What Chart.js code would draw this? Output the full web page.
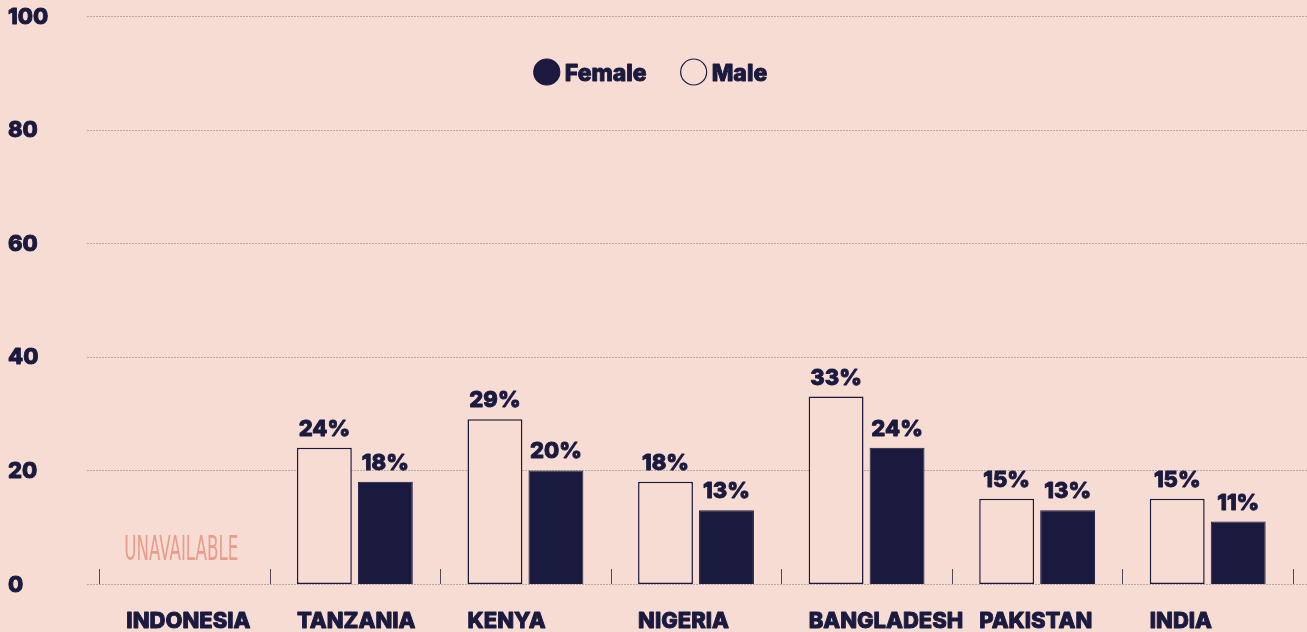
<!DOCTYPE html>
<html>
<head>
<meta charset="utf-8">
<script src="https://cdn.jsdelivr.net/npm/chart.js@4.4.1/dist/chart.umd.min.js"></script>
<style>
html, body { margin: 0; padding: 0; background: #f7dcd3; }
canvas { display: block; }
</style>
</head>
<body>
<canvas id="genderChart" width="1307" height="632"></canvas>
<script>
// data
const countries = ["INDONESIA", "TANZANIA", "KENYA", "NIGERIA", "BANGLADESH", "PAKISTAN", "INDIA"];
const maleValues = [null, 24, 29, 18, 33, 15, 15];
const femaleValues = [null, 18, 20, 13, 24, 13, 11];
const yTicks = [0, 20, 40, 60, 80, 100];
const missingLabel = "UNAVAILABLE";

const NAVY = "#1a193e";
const BG = "#f7dcd3";
const SALMON = "#e99c8c";
const FONT = "Inter, 'DejaVu Sans', sans-serif";


// heavier text: fill plus a thin stroke in the same colour
function boldText(ctx, text, x, y) {
    ctx.lineWidth = 0.9;
    ctx.lineJoin = "round";
    ctx.strokeStyle = ctx.fillStyle;
    ctx.strokeText(text, x, y);
    ctx.fillText(text, x, y);
}


// ======================
// GRID + TICK MARKS
// ======================

const gridPlugin = {
    id: "gridLines",
    beforeDatasetsDraw(chart) {
        const ctx = chart.ctx;
        const area = chart.chartArea;
        const ys = chart.scales.y;
        const xs = chart.scales.x;

        ctx.save();
        ctx.strokeStyle = "#b3abaa";
        ctx.lineWidth = 1;
        ctx.setLineDash([2, 1]);
        yTicks.forEach(v => {
            const y = Math.round(ys.getPixelForValue(v)) + 0.5;
            ctx.beginPath();
            ctx.moveTo(area.left - 12, y);
            ctx.lineTo(chart.width, y);
            ctx.stroke();
        });
        ctx.restore();

        // short category separators sitting on the baseline
        const step = xs.getPixelForValue(1) - xs.getPixelForValue(0);
        const base = ys.getPixelForValue(0);
        ctx.save();
        ctx.strokeStyle = "#4e4a55";
        ctx.lineWidth = 1;
        for (let i = 0; i <= countries.length; i++) {
            const x = Math.round(xs.getPixelForValue(i) - step / 2) + 0.5;
            ctx.beginPath();
            ctx.moveTo(x, base - 15);
            ctx.lineTo(x, base);
            ctx.stroke();
        }
        ctx.restore();
    }
};


// ======================
// LABELS + LEGEND
// ======================

const labelPlugin = {
    id: "labels",
    afterDraw(chart) {
        const ctx = chart.ctx;
        const xs = chart.scales.x;
        const ys = chart.scales.y;
        const maleMeta = chart.getDatasetMeta(0);

        ctx.save();
        ctx.fillStyle = NAVY;
        ctx.font = `800 22px ${FONT}`;

        // y tick labels
        ctx.textAlign = "left";
        ctx.textBaseline = "middle";
        yTicks.forEach(v => {
            boldText(ctx, String(v), 8, ys.getPixelForValue(v) + 1);
        });

        // value labels
        ctx.textAlign = "center";
        ctx.textBaseline = "alphabetic";
        chart.data.datasets.forEach((ds, di) => {
            const meta = chart.getDatasetMeta(di);
            ds.data.forEach((v, i) => {
                if (v === null) return;
                const bar = meta.data[i];
                boldText(ctx, v + "%", bar.x, bar.y - 12);
            });
        });

        // category labels, left aligned with the bar group
        ctx.textAlign = "left";
        const groupOffset = xs.getPixelForValue(1) -
            (maleMeta.data[1].x - maleMeta.data[1].width / 2);
        countries.forEach((c, i) => {
            const x = xs.getPixelForValue(i) - groupOffset;
            boldText(ctx, c, x, chart.height - 4);
        });
        ctx.restore();

        // missing data note
        maleValues.forEach((v, i) => {
            if (v !== null) return;
            ctx.save();
            ctx.fillStyle = SALMON;
            ctx.font = `400 33px 'Liberation Sans Narrow', 'DejaVu Sans Condensed', sans-serif`;
            const w = ctx.measureText(missingLabel).width;
            ctx.translate(xs.getPixelForValue(i) - 60, ys.getPixelForValue(0) - 24);
            ctx.scale(114 / w, 1);
            ctx.fillText(missingLabel, 0, 0);
            ctx.restore();
        });

        // legend
        ctx.save();
        ctx.font = `800 23px ${FONT}`;
        const items = chart.data.datasets.slice().reverse();
        const r = 13;
        const gapText = 5;
        const gapItem = 34;
        const widths = items.map(ds => 2 * r + gapText + ctx.measureText(ds.label).width);
        const total = widths.reduce((a, b) => a + b, 0) + gapItem * (items.length - 1);
        let x = (chart.width - total) / 2 - 3;
        const cy = chart.chartArea.top + 56;
        items.forEach((ds, k) => {
            ctx.beginPath();
            ctx.arc(x + r, cy, r, 0, Math.PI * 2);
            ctx.fillStyle = ds.backgroundColor;
            ctx.fill();
            ctx.lineWidth = 1.2;
            ctx.strokeStyle = NAVY;
            ctx.stroke();
            ctx.fillStyle = NAVY;
            ctx.textBaseline = "alphabetic";
            boldText(ctx, ds.label, x + 2 * r + gapText, cy + 9);
            x += widths[k] + gapItem;
        });
        ctx.restore();
    }
};


// ======================
// CHART
// ======================

new Chart(
    document.getElementById("genderChart"),
    {
        type: "bar",

        data: {
            labels: countries,
            datasets: [
                {
                    label: "Male",
                    data: maleValues,
                    backgroundColor: BG,
                    borderColor: NAVY,
                    borderWidth: 1.5,
                    borderSkipped: false
                },
                {
                    label: "Female",
                    data: femaleValues,
                    backgroundColor: NAVY,
                    borderColor: NAVY,
                    borderWidth: 1
                }
            ]
        },

        options: {
            responsive: false,
            animation: false,
            devicePixelRatio: 1,
            categoryPercentage: 0.715,
            barPercentage: 0.9,
            layout: {
                padding: { left: 8, right: 14, top: 16, bottom: 48 }
            },
            plugins: {
                legend: { display: false },
                tooltip: { enabled: false }
            },
            scales: {
                x: {
                    display: false
                },
                y: {
                    min: 0,
                    max: 100,
                    afterFit: scale => {
                        scale.width = 91;
                    },
                    grid: { display: false },
                    border: { display: false },
                    ticks: { display: false, stepSize: 20 }
                }
            }
        },

        plugins: [gridPlugin, labelPlugin]
    }
);
</script>
</body>
</html>
